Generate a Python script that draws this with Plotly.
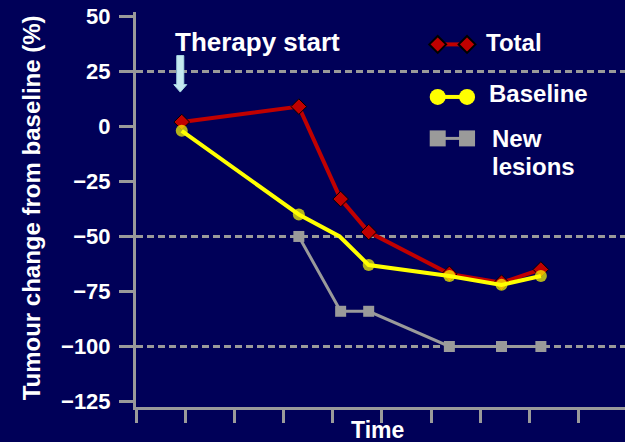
import plotly.graph_objects as go

# Tumour measurements over time (time in axis units, change in %)
time_total = [0.93, 3.31, 4.16, 4.73, 6.37, 7.43, 8.23]
total_change = [2, 9, -33, -48, -67, -71, -65]

time_baseline = [0.93, 3.31, 4.14, 4.73, 6.37, 7.43, 8.23]
baseline_change = [-2, -40, -50, -63, -68, -72, -68]
baseline_marked = [True, True, False, True, True, True, True]

time_new = [3.31, 4.16, 4.73, 6.37, 7.43, 8.23]
new_change = [-50, -84, -84, -100, -100, -100]

y_ticks = [50, 25, 0, -25, -50, -75, -100, -125]
x_ticks = list(range(0, 10))
ref_lines = [25, -50, -100]
therapy_start_time = 0.90

BG = "#000058"
GRID = "#9a9a9a"
RED = "#c00000"
YELLOW = "#ffff00"
GREY = "#9a9a9a"
FONT = "Liberation Sans, Arial, sans-serif"

fig = go.Figure()

fig.add_trace(go.Scatter(
    x=time_new, y=new_change, mode="lines+markers",
    line=dict(color=GREY, width=3),
    marker=dict(symbol="square", size=11, color=GREY, line=dict(width=0)),
    showlegend=False, hoverinfo="skip"))

fig.add_trace(go.Scatter(
    x=time_total, y=total_change, mode="lines+markers",
    line=dict(color=RED, width=4),
    marker=dict(symbol="diamond", size=12, color=RED,
                line=dict(color="black", width=1)),
    showlegend=False, hoverinfo="skip"))

fig.add_trace(go.Scatter(
    x=time_baseline, y=baseline_change, mode="lines+markers",
    line=dict(color=YELLOW, width=4),
    marker=dict(symbol="circle", color=YELLOW, line=dict(width=0, color=YELLOW),
                size=[12 if m else 0 for m in baseline_marked]),
    showlegend=False, hoverinfo="skip"))

# Hand-built legend keys: two markers joined by a short line
legend_keys = [
    (dict(symbol="diamond", size=13, color=RED,
          line=dict(color="black", width=2)), RED, 4, 0.918),
    (dict(symbol="circle", size=16, color=YELLOW, line=dict(width=0, color=YELLOW)), YELLOW, 4, 0.785),
    (dict(symbol="square", size=16, color=GREY, line=dict(width=0)), GREY, 3, 0.680),
]
key_x = [0.617, 0.677]
for mk, col, lw, ky in legend_keys:
    fig.add_trace(go.Scatter(
        x=key_x, y=[ky, ky], mode="lines+markers",
        line=dict(color=col, width=lw), marker=mk,
        xaxis="x2", yaxis="y2", showlegend=False, hoverinfo="skip",
        cliponaxis=False))

legend_text = [("Total", 0.712, 0.923), ("Baseline", 0.717, 0.793),
               ("New", 0.724, 0.680), ("lesions", 0.724, 0.610)]

annotations = [
    dict(text=t, x=x, y=y, xref="paper", yref="paper", xanchor="left",
         yanchor="middle", showarrow=False,
         font=dict(family=FONT, size=24, color="white", weight="bold"))
    for t, x, y in legend_text
]
annotations += [
    dict(text="Therapy start", x=0.076, y=0.925, xref="paper", yref="paper",
         xanchor="left", yanchor="middle", showarrow=False,
         font=dict(family=FONT, size=26, color="white", weight="bold")),
    dict(text="Tumour change from baseline (%)", x=-0.213, y=0.505,
         xref="paper", yref="paper", textangle=-90, showarrow=False,
         xanchor="center", yanchor="middle",
         font=dict(family=FONT, size=24, color="white", weight="bold")),
    dict(text="Time", x=0.493, y=-0.058, xref="paper", yref="paper",
         showarrow=False, xanchor="center", yanchor="middle",
         font=dict(family=FONT, size=23, color="white", weight="bold")),
]

shapes = [
    dict(type="line", xref="paper", x0=0, x1=1, yref="y", y0=v, y1=v,
         line=dict(color=GRID, width=3, dash="7px,4px"), layer="below")
    for v in ref_lines
]
# Downward arrow marking the start of therapy
shapes.append(dict(
    type="path", xref="x", yref="y", xsizemode="pixel", ysizemode="pixel",
    xanchor=therapy_start_time, yanchor=15.6,
    path="M 0 0 L -6.5 7.5 L -3.5 7.5 L -3.5 36.5 L 3.5 36.5 L 3.5 7.5 L 6.5 7.5 Z",
    fillcolor="#c4e9f0", line=dict(color="#a8d8e6", width=1)))

axis_font = dict(family=FONT, size=22, color="white", weight="bold")

fig.update_layout(
    width=625, height=442,
    margin=dict(l=136, r=0, t=12, b=35),
    paper_bgcolor=BG, plot_bgcolor=BG,
    showlegend=False,
    shapes=shapes, annotations=annotations,
    xaxis=dict(range=[0, 9.94], tickvals=x_ticks, ticktext=[""] * len(x_ticks),
               ticks="outside", ticklen=13, tickwidth=3, tickcolor=GREY,
               showline=True, linecolor=GREY, linewidth=3,
               showgrid=False, zeroline=False, fixedrange=True),
    yaxis=dict(range=[-127.5, 52], tickvals=y_ticks,
               ticks="outside", ticklen=14, tickwidth=3, tickcolor=GREY,
               showline=True, linecolor=GREY, linewidth=3,
               showgrid=False, zeroline=False, tickfont=axis_font,
               ticklabelstandoff=4, fixedrange=True),
    xaxis2=dict(range=[0, 1], overlaying="x", visible=False, fixedrange=True),
    yaxis2=dict(range=[0, 1], overlaying="y", visible=False, fixedrange=True),
)

fig.write_html("out.html")
